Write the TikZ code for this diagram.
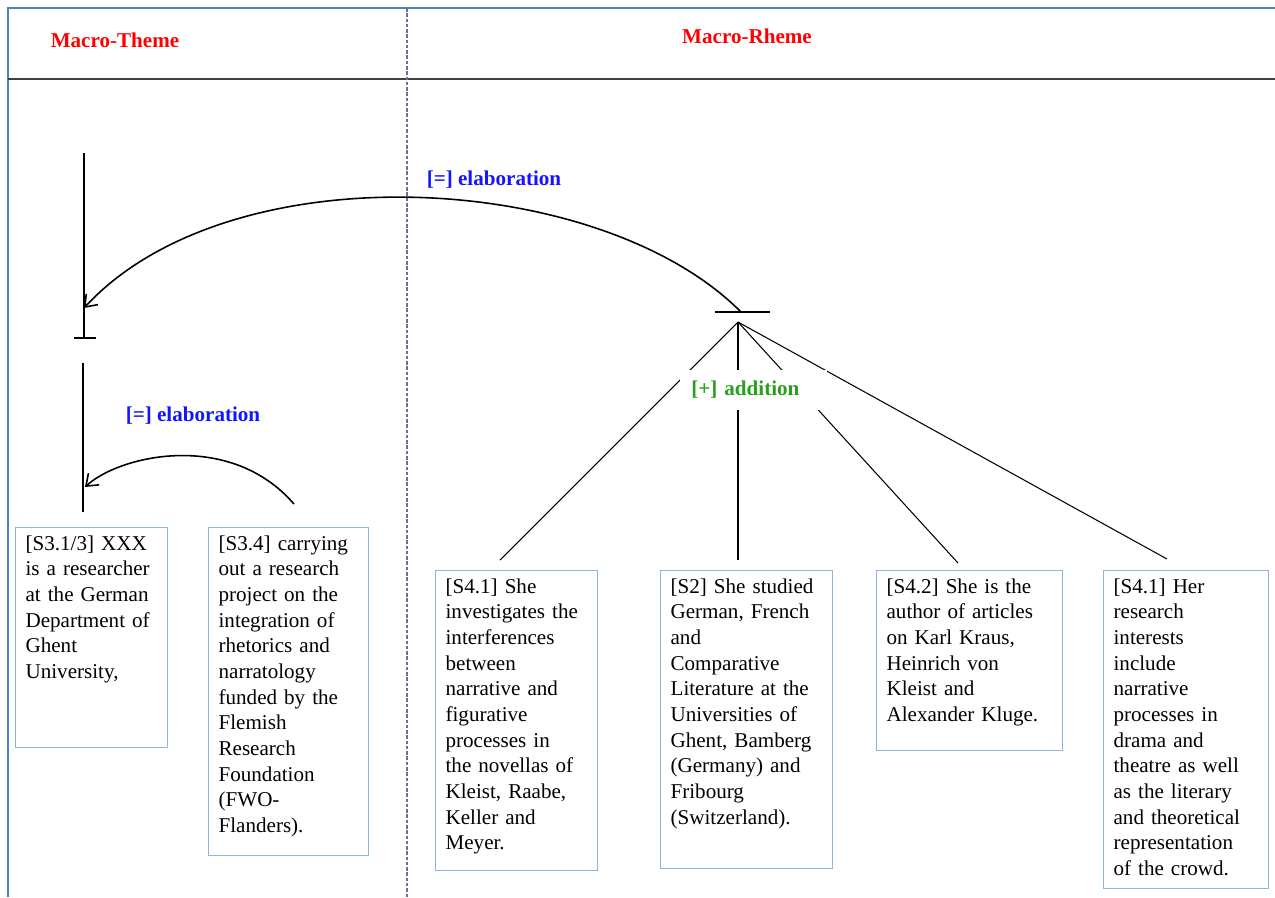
\documentclass[tikz,border=0pt]{standalone}
\usepackage{fontspec}
\setmainfont{Liberation Serif}
\usetikzlibrary{arrows.meta}
\definecolor{framebl}{RGB}{79,129,189}
\definecolor{boxbl}{RGB}{142,180,227}
\definecolor{divpurple}{RGB}{128,100,162}
\definecolor{hdrgrey}{RGB}{64,64,64}
\definecolor{relblue}{RGB}{20,20,255}
\definecolor{relgreen}{RGB}{40,160,30}
\tikzset{
  unit/.style={draw=boxbl, line width=0.7pt, anchor=north west, align=left,
    inner xsep=0.2cm, inner ysep=0.16cm, font=\fontsize{12}{14.6}\selectfont},
  rel/.style={font=\fontsize{12}{14}\selectfont\bfseries},
  arc/.style={line width=0.9pt, -{Straight Barb[length=6pt,width=9pt]}},
  tree/.style={line width=0.8pt},
}

\begin{document}
\begin{tikzpicture}[x=0.02cm,y=-0.02cm]
\useasboundingbox (0,0) rectangle (1275,897);
% frame, header rule and divider
\draw[framebl, line width=1pt] (8,897) -- (8,8) -- (1275,8);
\draw[hdrgrey, line width=1.5pt] (8,79) -- (1275,79);
\draw[divpurple, line width=0.8pt, dash pattern=on 2pt off 1pt] (407,8) -- (407,897);
\node[rel, red] (mtheme) at (115,40) {Macro-Theme};
\node[rel, red] (mrheme) at (747,36) {Macro-Rheme};

% text units
\node[unit, text width=2.64cm, text depth=3.78cm] (s31) at (15,527)
  {[S3.1/3] XXX\\ is a researcher\\ at the German\\ Department of\\ Ghent\\ University,};
\node[unit, text width=2.8cm, text depth=5.94cm] (s34) at (208,527)
  {[S3.4] carrying\\ out a research\\ project on the\\ integration of\\ rhetorics and\\ narratology\\ funded by the\\ Flemish\\ Research\\ Foundation\\ (FWO-\\ Flanders).};
\node[unit, text width=2.84cm, text depth=5.38cm] (s41a) at (435,570)
  {[S4.1] She\\ investigates the\\ interferences\\ between\\ narrative and\\ figurative\\ processes in\\ the novellas of\\ Kleist, Raabe,\\ Keller and\\ Meyer.};
\node[unit, text width=3.04cm, text depth=5.34cm] (s2) at (660,570)
  {[S2] She studied\\ German, French\\ and\\ Comparative\\ Literature at the\\ Universities of\\ Ghent, Bamberg\\ (Germany) and\\ Fribourg\\ (Switzerland).};
\node[unit, text width=3.32cm, text depth=2.98cm] (s42) at (876,570)
  {[S4.2] She is the\\ author of articles\\ on Karl Kraus,\\ Heinrich von\\ Kleist and\\ Alexander Kluge.};
\node[unit, text width=2.9cm, text depth=5.74cm] (s41b) at (1103,570)
  {[S4.1] Her\\ research\\ interests\\ include\\ narrative\\ processes in\\ drama and\\ theatre as well\\ as the literary\\ and theoretical\\ representation\\ of the crowd.};

% macro-theme spine
\coordinate (lt1) at (84,153);
\coordinate (lb1) at (84,338);
\coordinate (la1) at (84,308);
\coordinate (lt2) at (83,363);
\coordinate (lb2) at (83,512);
\coordinate (la2) at (85,487);
\coordinate (sa) at (294,504);
\draw[tree] (lt1) -- (lb1);
\draw[tree] (lb1) ++(-10,0) -- ++(22,0);
\draw[tree] (lt2) -- (lb2);

% macro-rheme fan
\coordinate (rtick) at (741,312);
\coordinate (hub) at (738,322);
\coordinate (e1) at (500,560);
\coordinate (e2) at (738,560);
\coordinate (e3) at (958,563);
\coordinate (e4) at (1167,559);
\draw[tree] (rtick) ++(-26,0) -- ++(55,0);
\foreach \e in {e1,e2,e3,e4}
  \draw[line width=0.6pt] (hub) -- (\e);

% elaborations
\draw[arc] (rtick) .. controls (600,170) and (230,150) .. (la1);
\draw[arc] (sa) .. controls (230,430) and (120,455) .. (la2);
\node[rel, relblue] (elab1) at (494,180) {[=] elaboration};
\node[rel, relblue] (elab2) at (193,416) {[=] elaboration};
\node[rel, relgreen, fill=white, anchor=west, text width=2.5cm, inner xsep=0.22cm,
  minimum height=0.8cm] (addn) at (680,390) {[+] addition};
\end{tikzpicture}
\end{document}
